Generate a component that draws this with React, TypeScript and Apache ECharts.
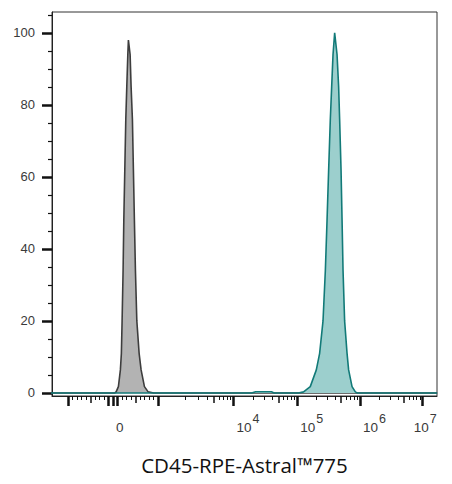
import React, { useEffect, useRef } from "react";
import * as echarts from "echarts";

// ---- data (fluorescence value, count) ----
const GRAY_X = [-1600, 40, 67, 118, 162, 184, 200, 222, 238, 260, 282, 304, 327, 340, 378, 400, 429, 451, 473, 496, 527, 578, 622, 696, 778, 900, 17000000];
const GRAY_Y = [0, 0, 0.3, 1.75, 6.4, 11, 20, 34, 48, 62, 76, 85, 94, 98, 94, 85, 76, 62, 48, 34, 20, 11, 6.4, 1.75, 0.3, 0, 0];

const TEAL_X = [-1600, 19000, 22000, 39000, 43000, 104000, 126000, 161000, 201000, 227000, 257000, 280000, 298000, 316000, 336000, 353000, 371000, 394000, 430000, 456000, 473000, 498000, 517000, 536000, 568000, 621000, 658000, 746000, 842000, 897000, 17000000];
const TEAL_Y = [0, 0, 0.35, 0.35, 0, 0, 0.3, 1.75, 6.4, 11, 20, 34, 48, 62, 76, 85, 94, 100, 94, 85, 76, 62, 48, 34, 20, 11, 6.4, 1.75, 0.3, 0, 0];

// ---- axis ticks / labels ----
const X_MAJOR_TICKS = [-1000, -100, 0, 100, 1000, 10000, 100000, 1000000, 10000000];
const X_MEDIUM_TICKS = [-500, 500, 5000, 50000, 500000, 5000000];
const X_MINOR_MULTS = [2, 3, 4, 6, 7, 8, 9];
const X_MINOR_DECADES = [100, 1000, 10000, 100000, 1000000];
const X_LABEL_VALUES = [0, 10000, 100000, 1000000];
const X_LAST_LABEL = [10000000];
const Y_MAJOR = [0, 20, 40, 60, 80, 100];
const Y_MINOR = [5, 10, 15, 25, 30, 35, 45, 50, 55, 65, 70, 75, 85, 90, 95, 105];
const X_TITLE = "CD45-RPE-Astral™775";

// ---- biexponential-like display transform ----
const LIN = 1000;
const LOG_OFF = 400;
const K = 1.391;
const L0 = Math.log10(LIN - LOG_OFF);
function T(v: number): number {
  const a = Math.abs(v);
  if (a <= LIN) return v / LIN;
  return Math.sign(v) * (1 + K * (Math.log10(a - LOG_OFF) - L0));
}
const XMIN = -1.356;
const XMAX = 7.19;
const YMIN = -0.85;
const YMAX = 105.8;

const minorTicks: number[] = [];
X_MINOR_DECADES.forEach((d) => {
  X_MINOR_MULTS.forEach((m) => {
    minorTicks.push(m * d);
    if (d === 100) minorTicks.push(-m * d);
  });
});

function labelText(val: number, list: number[]): string {
  const v = list.find((x) => Math.abs(T(x) - val) < 1e-6);
  if (v === undefined) return "";
  if (v === 0) return "{b|0}";
  return "{b|10}{s|" + Math.round(Math.log10(v)) + "}";
}

const TICK_FONT = "Liberation Sans";
const richStyle = {
  b: { fontSize: 13.5, lineHeight: 30, color: "#3a3a3a", fontFamily: TICK_FONT },
  s: { fontSize: 12.5, lineHeight: 12, verticalAlign: "top", color: "#3a3a3a", fontFamily: TICK_FONT, padding: [0, 0, 0, 1] },
};

export default function App() {
  const ref = useRef<HTMLDivElement>(null);
  useEffect(() => {
    if (!ref.current) return;
    const chart = echarts.init(ref.current, undefined, { renderer: "svg" });
    const baseX = {
      type: "value",
      min: XMIN,
      max: XMAX,
      position: "bottom",
      splitLine: { show: false },
      axisLine: { show: false, onZero: false },
    };
    chart.setOption({
      animation: false,
      backgroundColor: "#fff",
      grid: {
        left: 52,
        right: 15,
        top: 12,
        bottom: 88,
        show: true,
        borderColor: "#333",
        borderWidth: 1,
        backgroundColor: "transparent",
      },
      xAxis: [
        {
          ...baseX,
          axisLine: { show: true, onZero: false, lineStyle: { color: "#222", width: 1 } },
          axisTick: {
            show: true,
            customValues: X_MAJOR_TICKS.map(T),
            length: 10,
            lineStyle: { color: "#111", width: 2.5 },
          },
          axisLabel: {
            show: true,
            customValues: X_LABEL_VALUES.map(T),
            align: "left",
            margin: 16,
            padding: [0, 0, 0, 3],
            formatter: (val: number) => labelText(val, X_LABEL_VALUES),
            rich: richStyle,
          },
          name: X_TITLE,
          nameLocation: "middle",
          nameGap: 58,
          nameTextStyle: { fontSize: 20.5, color: "#111", fontFamily: "Open Sans" },
        },
        {
          ...baseX,
          axisTick: {
            show: true,
            customValues: X_MEDIUM_TICKS.map(T),
            length: 7,
            lineStyle: { color: "#111", width: 1.5 },
          },
          axisLabel: {
            show: true,
            customValues: X_LAST_LABEL.map(T),
            align: "center",
            margin: 16,
            padding: [0, 0, 0, 5],
            formatter: (val: number) => labelText(val, X_LAST_LABEL),
            rich: richStyle,
          },
        },
        {
          ...baseX,
          axisTick: {
            show: true,
            customValues: minorTicks.map(T),
            length: 4,
            lineStyle: { color: "#111", width: 1 },
          },
          axisLabel: { show: false },
        },
      ],
      yAxis: [
        {
          type: "value",
          min: YMIN,
          max: YMAX,
          position: "left",
          splitLine: { show: false },
          axisLine: { show: true, onZero: false, lineStyle: { color: "#222", width: 1 } },
          axisTick: {
            show: true,
            customValues: Y_MAJOR,
            length: 10,
            lineStyle: { color: "#111", width: 2.5 },
          },
          axisLabel: {
            show: true,
            customValues: Y_MAJOR,
            margin: 17,
            fontSize: 13,
            color: "#3a3a3a",
            fontFamily: TICK_FONT,
          },
        },
        {
          type: "value",
          min: YMIN,
          max: YMAX,
          position: "left",
          splitLine: { show: false },
          axisLine: { show: false, onZero: false },
          axisTick: {
            show: true,
            customValues: Y_MINOR,
            length: 4,
            lineStyle: { color: "#111", width: 1.2 },
          },
          axisLabel: { show: false },
        },
      ],
      series: [
        {
          type: "line",
          xAxisIndex: 0,
          yAxisIndex: 0,
          symbol: "none",
          data: GRAY_X.map((x, i) => [T(x), GRAY_Y[i]]),
          lineStyle: { color: "#3d3d3d", width: 1.6 },
          areaStyle: { color: "#b3b3b3", opacity: 1 },
          z: 2,
        },
        {
          type: "line",
          xAxisIndex: 0,
          yAxisIndex: 0,
          symbol: "none",
          data: TEAL_X.map((x, i) => [T(x), TEAL_Y[i]]),
          lineStyle: { color: "#127a78", width: 1.6 },
          areaStyle: { color: "#9ccfcd", opacity: 1 },
          z: 3,
        },
      ],
    });
    return () => chart.dispose();
  }, []);
  return (
    <div
      ref={ref}
      style={{ position: "fixed", left: 0, top: 0, width: 452, height: 484, background: "#fff" }}
    />
  );
}
